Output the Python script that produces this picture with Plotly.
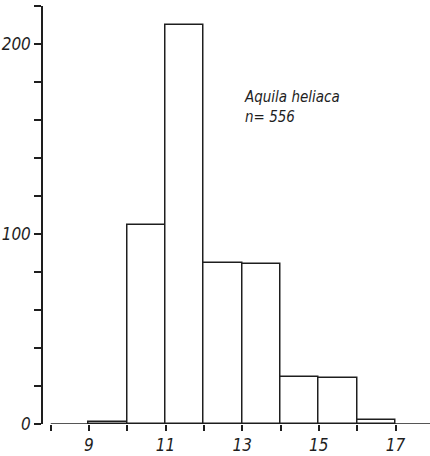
import plotly.graph_objects as go

bin_left = [9, 10, 11, 12, 13, 14, 15, 16]
counts = [1, 105, 210, 85, 84, 25, 24, 2]
x_tick_vals = list(range(8, 18))
x_tick_text = ["", "9", "", "11", "", "13", "", "15", "", "17"]
y_tick_vals = list(range(0, 221, 20))
y_tick_text = ["0" if v == 0 else ("100" if v == 100 else ("200" if v == 200 else "")) for v in y_tick_vals]
label = "Aquila heliaca<br>n= 556"
x_min, x_max = 8, 17.9

ink = "#1e1e1e"
fam = "DejaVu Sans Condensed, DejaVu Sans"
tick_font = dict(family=fam, size=17, color=ink, style="italic")
ann_font = dict(family=fam, size=15, color=ink, style="italic")

fig = go.Figure()
fig.add_trace(go.Bar(
    x=[b + 0.5 for b in bin_left],
    y=counts,
    width=1,
    marker=dict(color="white", line=dict(color=ink, width=1.5)),
    showlegend=False,
))

# baseline (x axis line) drawn exactly at y=0
fig.add_shape(type="line", xref="x", yref="y", x0=x_min, x1=x_max, y0=0, y1=0,
              line=dict(color=ink, width=1.5))

fig.update_layout(
    width=430, height=456,
    margin=dict(l=42, r=0, t=6, b=32),
    paper_bgcolor="white", plot_bgcolor="white",
    font=tick_font,
    bargap=0,
    xaxis=dict(
        domain=[(50.5 - 42) / 388, 1],
        range=[x_min, x_max],
        showline=False,
        ticks="outside", ticklen=6, tickwidth=1.5, tickcolor=ink,
        tickvals=x_tick_vals, ticktext=x_tick_text,
        showgrid=False, zeroline=False,
        tickfont=tick_font,
    ),
    yaxis=dict(
        anchor="free", position=0,
        range=[0, 220],
        showline=True, linecolor=ink, linewidth=1.5,
        ticks="outside", ticklen=7, tickwidth=1.5, tickcolor=ink,
        tickvals=y_tick_vals, ticktext=y_tick_text,
        showgrid=False, zeroline=False,
        tickfont=tick_font,
    ),
    annotations=[dict(
        x=13.0, y=178, xref="x", yref="y",
        text=label, showarrow=False,
        xanchor="left", yanchor="top", align="left",
        font=ann_font,
    )],
)

fig.write_html("out.html")
